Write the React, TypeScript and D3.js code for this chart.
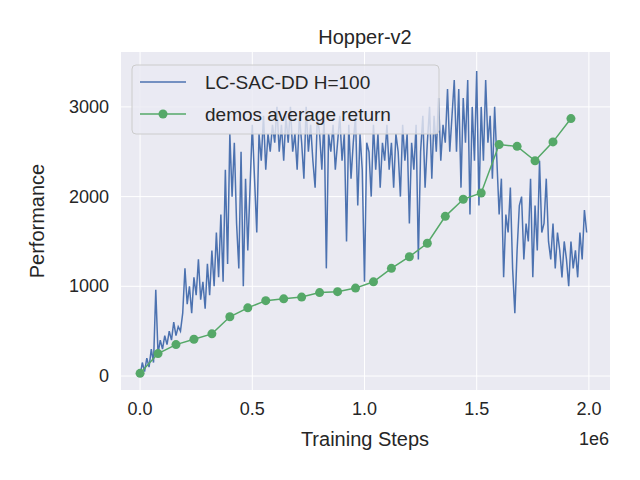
import React from "react";
import * as d3 from "d3";

const blueY: number[] = [
  0,150,50,200,100,300,150,960,250,400,
  300,450,350,500,400,600,450,550,500,700,
  1200,800,1000,700,1100,900,1300,850,1050,750,
  1250,900,1400,1000,1600,1100,1800,1050,2300,1250,
  2700,2000,2600,1700,1200,2500,1000,2200,1400,2100,
  2800,2200,1600,2700,2400,2900,2300,2700,2500,2800,
  2600,3000,2500,2800,2400,2900,2600,3000,2500,2700,
  2300,2900,2600,2200,3000,2500,2800,2400,2100,2900,
  2700,2300,2900,1200,2700,2500,2800,2300,2600,2900,
  2400,2700,1500,2800,2200,2600,2900,1900,2700,2300,
  1050,2600,2500,2000,2800,2300,2700,2100,2600,2400,
  2800,2300,2600,2100,2700,2500,2000,2800,2400,2700,
  1700,2600,2300,2800,1300,2500,2900,2100,2600,3000,
  2200,2900,2500,3100,2400,2800,2600,3200,2500,2900,
  3300,2500,3200,2100,3100,2600,3300,1800,3000,2400,
  3400,1900,3000,2400,3300,2600,2900,2200,3000,2400,
  1800,2200,1100,1800,1600,2100,1200,700,1400,1900,
  2000,1300,1700,1500,2200,1100,1900,1400,2400,1600,
  1700,2200,1500,1300,1700,1200,1600,1400,1100,1500,
  1300,1000,1500,1200,1400,1100,1600,1300,1850,1600,
];
const blueStep = 0.01e6;
const greenX: number[] = [0,0.08,0.16,0.24,0.32,0.4,0.48,0.56,0.64,0.72,0.8,0.88,0.96,1.04,1.12,1.2,1.28,1.36,1.44,1.52,1.6,1.68,1.76,1.84,1.92].map(v=>v*1e6);
const greenY: number[] = [30,250,350,410,470,660,760,840,860,880,930,940,980,1050,1200,1330,1480,1780,1970,2040,2580,2560,2400,2610,2870];
const xTicks = [0, 0.5e6, 1e6, 1.5e6, 2e6];
const xTickLabels = ["0.0","0.5","1.0","1.5","2.0"];
const yTicks = [0, 1000, 2000, 3000];

export default function App() {
  const L = 121, R = 610, T = 52, B = 390;
  const x = d3.scaleLinear().domain([-0.085e6, 2.094e6]).range([L, R]);
  const y = d3.scaleLinear().domain([-156, 3612]).range([B, T]);
  const blue = d3.line<number>().x((_, i) => x(i * blueStep)).y(d => y(d))(blueY) || "";
  const green = d3.line<number>().x((_, i) => x(greenX[i])).y(d => y(d))(greenY) || "";
  const font = "Liberation Sans, Arial, sans-serif";
  return (
    <svg width={640} height={480} style={{ position: "absolute", left: 0, top: 0 }} fontFamily={font}>
      <rect width={640} height={480} fill="#fff" />
      <rect x={L} y={T} width={R - L} height={B - T} fill="#eaeaf2" />
      {xTicks.map(t => <line key={t} x1={x(t)} x2={x(t)} y1={T} y2={B} stroke="#fff" strokeWidth={1} />)}
      {yTicks.map(t => <line key={t} x1={L} x2={R} y1={y(t)} y2={y(t)} stroke="#fff" strokeWidth={1} />)}
      <path d={blue} fill="none" stroke="#4c72b0" strokeWidth={1.5} />
      <path d={green} fill="none" stroke="#55a868" strokeWidth={1.5} />
      {greenY.map((v, i) => <circle key={i} cx={x(greenX[i])} cy={y(v)} r={4.5} fill="#55a868" />)}
      {xTicks.map((t, i) => <text key={t} x={x(t)} y={B + 25} textAnchor="middle" fontSize={18} fill="#262626">{xTickLabels[i]}</text>)}
      {yTicks.map(t => <text key={t} x={L - 12} y={y(t) + 6} textAnchor="end" fontSize={18} fill="#262626">{t}</text>)}
      <text x={609} y={445} textAnchor="end" fontSize={18} fill="#262626">1e6</text>
      <text x={365} y={446} textAnchor="middle" fontSize={20} fill="#262626">Training Steps</text>
      <text transform={`translate(44,${(T + B) / 2}) rotate(-90)`} textAnchor="middle" fontSize={20} fill="#262626">Performance</text>
      <text x={365} y={44} textAnchor="middle" fontSize={20} fill="#262626">Hopper-v2</text>
      <g>
        <rect x={132} y={65} width={307} height={69} rx={4} fill="#eaeaf2" fillOpacity={0.8} stroke="#cccccc" />
        <line x1={140} x2={186} y1={82} y2={82} stroke="#4c72b0" strokeWidth={1.5} />
        <text x={205} y={89} fontSize={19} fill="#262626">LC-SAC-DD H=100</text>
        <line x1={140} x2={186} y1={114} y2={114} stroke="#55a868" strokeWidth={1.5} />
        <circle cx={163} cy={114} r={4.5} fill="#55a868" />
        <text x={205} y={121} fontSize={19} fill="#262626">demos average return</text>
      </g>
    </svg>
  );
}
